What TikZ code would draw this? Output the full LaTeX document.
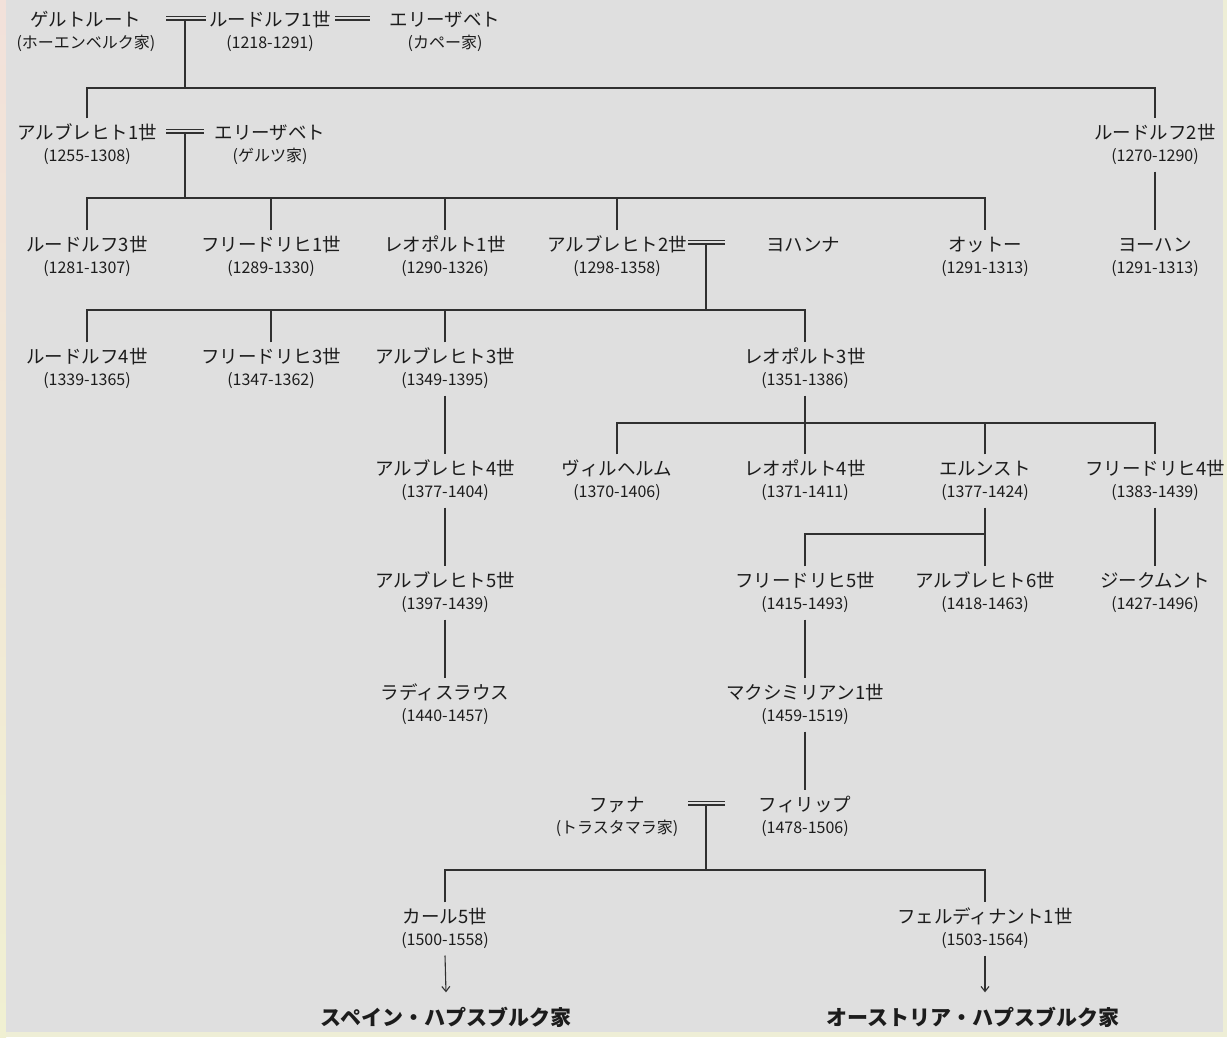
\documentclass[tikz,border=0pt]{standalone}
\usepackage{fontspec}
\setmainfont{Noto Sans CJK JP}
\usetikzlibrary{arrows.meta}
\definecolor{bggray}{HTML}{DFDFDF}
\definecolor{edgeA}{HTML}{F2E1DA}
\definecolor{edgeB}{HTML}{F0F0D2}
\definecolor{edgeC}{HTML}{EEEED6}
\definecolor{ink}{HTML}{1C1C1C}
\definecolor{wire}{HTML}{303030}
\newcommand\hbperson[5]{%
  \node[nm] (#1) at (#2,#3) {#4};
  \node[dt] (#1d) at (#2,#3+23.5) {#5};}
\tikzset{
  nm/.style={font=\fontsize{18.5}{20}\selectfont, text=ink, inner xsep=0pt, inner ysep=8pt, text height=13pt, text depth=0pt},
  dt/.style={font=\fontsize{16}{18}\selectfont, text=ink, inner xsep=0pt, inner ysep=10pt, text height=9.6pt, text depth=0pt},
  house/.style={font=\fontsize{21}{24}\selectfont\bfseries, text=ink, inner xsep=0pt, inner ysep=16pt, text height=17pt, text depth=2pt},
  ln/.style={draw=wire, line width=1.3pt},
  marr/.style={draw=wire, line width=1.2pt, double=bggray, double distance=2.6pt},
  arr/.style={draw=wire, line width=1.1pt, -{Straight Barb[length=5pt,width=8pt]}}
}
\begin{document}
\begin{tikzpicture}[x=1pt,y=-1pt]
\useasboundingbox (0,0) rectangle (1227,1037);
% background
\fill[edgeC] (0,0) rectangle (1227,1037);
\shade[top color=edgeA, bottom color=edgeB] (0,0) rectangle (6,1037);
\fill[bggray] (6,0) rectangle (1223,1032);

% people
\hbperson{g}{86}{20}{ゲルトルート}{(ホーエンベルク家)}
\hbperson{r1}{270}{20}{ルードルフ1世}{(1218-1291)}
\hbperson{e1}{445}{20}{エリーザベト}{(カペー家)}
\hbperson{a1}{87}{133}{アルブレヒト1世}{(1255-1308)}
\hbperson{e2}{270}{133}{エリーザベト}{(ゲルツ家)}
\hbperson{r2}{1155}{133}{ルードルフ2世}{(1270-1290)}
\hbperson{r3}{87}{245}{ルードルフ3世}{(1281-1307)}
\hbperson{f1}{271}{245}{フリードリヒ1世}{(1289-1330)}
\hbperson{l1}{445}{245}{レオポルト1世}{(1290-1326)}
\hbperson{a2}{617}{245}{アルブレヒト2世}{(1298-1358)}
\node[nm] (jh) at (803,245) {ヨハンナ};
\hbperson{ot}{985}{245}{オットー}{(1291-1313)}
\hbperson{jo}{1155}{245}{ヨーハン}{(1291-1313)}
\hbperson{r4}{87}{357}{ルードルフ4世}{(1339-1365)}
\hbperson{f3}{271}{357}{フリードリヒ3世}{(1347-1362)}
\hbperson{a3}{445}{357}{アルブレヒト3世}{(1349-1395)}
\hbperson{l3}{805}{357}{レオポルト3世}{(1351-1386)}
\hbperson{a4}{445}{469}{アルブレヒト4世}{(1377-1404)}
\hbperson{wi}{617}{469}{ヴィルヘルム}{(1370-1406)}
\hbperson{l4}{805}{469}{レオポルト4世}{(1371-1411)}
\hbperson{er}{985}{469}{エルンスト}{(1377-1424)}
\hbperson{f4}{1155}{469}{フリードリヒ4世}{(1383-1439)}
\hbperson{a5}{445}{581}{アルブレヒト5世}{(1397-1439)}
\hbperson{f5}{805}{581}{フリードリヒ5世}{(1415-1493)}
\hbperson{a6}{985}{581}{アルブレヒト6世}{(1418-1463)}
\hbperson{si}{1155}{581}{ジークムント}{(1427-1496)}
\hbperson{la}{445}{693}{ラディスラウス}{(1440-1457)}
\hbperson{mx}{805}{693}{マクシミリアン1世}{(1459-1519)}
\hbperson{jn}{617}{805}{ファナ}{(トラスタマラ家)}
\hbperson{ph}{805}{805}{フィリップ}{(1478-1506)}
\hbperson{k5}{445}{917}{カール5世}{(1500-1558)}
\hbperson{fe}{985}{917}{フェルディナント1世}{(1503-1564)}
\node[house] (sp) at (446,1018) {スペイン・ハプスブルク家};
\node[house] (au) at (973,1018) {オーストリア・ハプスブルク家};

% marriage points and bar levels
\coordinate (m0) at (185,18);
\coordinate (m0a) at (166,18);
\coordinate (m0b) at (206,18);
\coordinate (n0a) at (335,18);
\coordinate (n0b) at (370,18);
\coordinate (m1) at (185,131);
\coordinate (m1a) at (166,131);
\coordinate (m1b) at (204,131);
\coordinate (m2) at (706,242);
\coordinate (m2a) at (688,242);
\coordinate (m2b) at (725,242);
\coordinate (m7) at (706,803);
\coordinate (m7a) at (688,803);
\coordinate (m7b) at (725,803);
\coordinate (b0) at (0,88);
\coordinate (b1) at (0,198);
\coordinate (b2) at (0,310);
\coordinate (b3) at (0,423);
\coordinate (b4) at (0,534);
\coordinate (b7) at (0,870);

% generation 0
\draw[ln] (m0) -- (m0 |- b0);
\draw[ln] (a1.north) -- (a1.north |- b0) -- (r2.north |- b0) -- (r2.north);
\draw[marr] (m0a) -- (m0b);
\draw[marr] (n0a) -- (n0b);

% generation 1
\draw[ln] (m1) -- (m1 |- b1);
\draw[ln] (r3.north) -- (r3.north |- b1) -- (ot.north |- b1) -- (ot.north);
\draw[ln] (f1.north) -- (f1.north |- b1);
\draw[ln] (l1.north) -- (l1.north |- b1);
\draw[ln] (a2.north) -- (a2.north |- b1);
\draw[marr] (m1a) -- (m1b);
\draw[ln] (r2d.south) -- (jo.north);

% generation 2
\draw[ln] (m2) -- (m2 |- b2);
\draw[ln] (r4.north) -- (r4.north |- b2) -- (l3.north |- b2) -- (l3.north);
\draw[ln] (f3.north) -- (f3.north |- b2);
\draw[ln] (a3.north) -- (a3.north |- b2);
\draw[marr] (m2a) -- (m2b);

% generation 3
\draw[ln] (a3d.south) -- (a4.north);
\draw[ln] (l3d.south) -- (l4.north);
\draw[ln] (wi.north) -- (wi.north |- b3) -- (f4.north |- b3) -- (f4.north);
\draw[ln] (er.north) -- (er.north |- b3);

% generation 4
\draw[ln] (a4d.south) -- (a5.north);
\draw[ln] (erd.south) -- (a6.north);
\draw[ln] (f5.north) -- (f5.north |- b4) -- (a6.north |- b4);
\draw[ln] (f4d.south) -- (si.north);

% generation 5-6
\draw[ln] (a5d.south) -- (la.north);
\draw[ln] (f5d.south) -- (mx.north);
\draw[ln] (mxd.south) -- (ph.north);

% generation 7
\draw[ln] (m7) -- (m7 |- b7);
\draw[ln] (k5.north) -- (k5.north |- b7) -- (fe.north |- b7) -- (fe.north);
\draw[marr] (m7a) -- (m7b);

% lines of descent
\draw[arr] (k5d.south) -- (sp.north);
\draw[arr] (fed.south) -- (au.north -| fed.south);
\end{tikzpicture}
\end{document}
